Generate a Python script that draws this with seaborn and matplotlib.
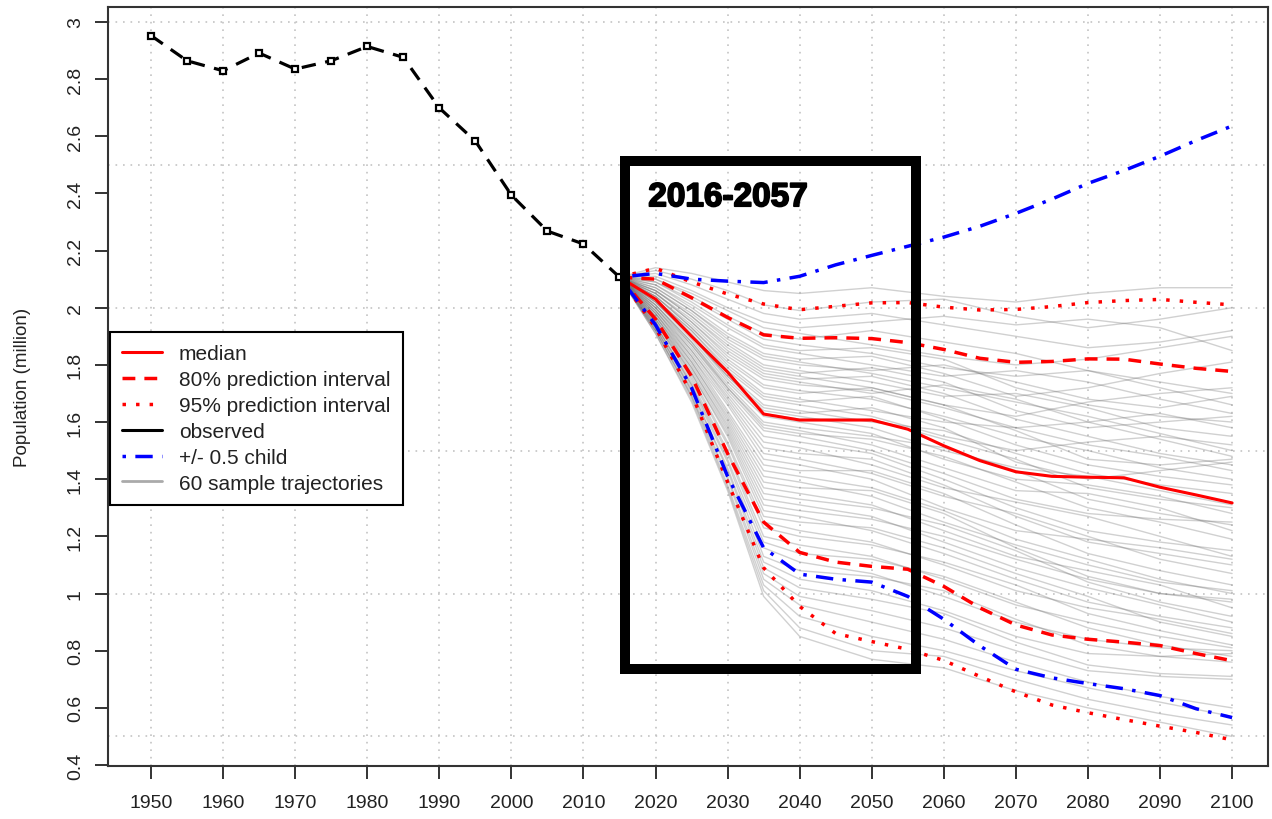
import matplotlib.pyplot as plt
import pandas as pd
import seaborn as sns
import numpy as np
from matplotlib.lines import Line2D
from matplotlib.patches import Rectangle
import matplotlib.patheffects as pe

# Observed population (million)
obs_years = [1950, 1955, 1960, 1965, 1970, 1975, 1980, 1985, 1990, 1995, 2000, 2005, 2010, 2015]
obs_pop = [2.952, 2.864, 2.829, 2.891, 2.835, 2.864, 2.914, 2.876, 2.699, 2.583, 2.394, 2.268, 2.223, 2.107]

# Projections
proj_years = [2015, 2020, 2025, 2030, 2035, 2040, 2045, 2050, 2055, 2060, 2065, 2070, 2075, 2080, 2085, 2090, 2095, 2100]
median = [2.107, 2.03, 1.90, 1.775, 1.628, 1.607, 1.607, 1.607, 1.575, 1.517, 1.465, 1.426, 1.41, 1.407, 1.405, 1.372, 1.345, 1.317]
pi80_up = [2.107, 2.10, 2.035, 1.966, 1.905, 1.893, 1.895, 1.892, 1.878, 1.854, 1.823, 1.809, 1.812, 1.821, 1.82, 1.803, 1.788, 1.777]
pi80_lo = [2.107, 1.96, 1.76, 1.49, 1.25, 1.144, 1.11, 1.095, 1.085, 1.025, 0.95, 0.89, 0.855, 0.84, 0.83, 0.818, 0.79, 0.765]
pi95_up = [2.107, 2.138, 2.09, 2.048, 2.013, 1.993, 2.005, 2.017, 2.018, 2.002, 1.992, 1.994, 2.004, 2.018, 2.025, 2.029, 2.019, 2.01]
pi95_lo = [2.107, 1.93, 1.70, 1.39, 1.09, 0.955, 0.86, 0.832, 0.805, 0.766, 0.71, 0.656, 0.61, 0.583, 0.559, 0.536, 0.514, 0.488]
child_up = [2.107, 2.12, 2.10, 2.093, 2.088, 2.11, 2.15, 2.183, 2.215, 2.247, 2.285, 2.33, 2.38, 2.435, 2.48, 2.53, 2.585, 2.636]
child_lo = [2.107, 1.94, 1.72, 1.41, 1.16, 1.068, 1.05, 1.04, 0.99, 0.91, 0.817, 0.735, 0.705, 0.685, 0.667, 0.643, 0.597, 0.566]

# 60 sample trajectories
traj_years = [2015, 2020, 2025, 2030, 2035, 2040, 2050, 2060, 2070, 2080, 2090, 2100]
traj_start = 2.107
traj = [
    [2.14, 2.12, 2.09, 2.06, 2.05, 2.07, 2.04, 2.02, 2.05, 2.07, 2.07],
    [2.13, 2.10, 2.06, 2.01, 1.99, 2.02, 2.03, 1.97, 1.93, 1.96, 2.00],
    [2.12, 2.08, 2.03, 1.98, 1.96, 1.98, 1.94, 1.90, 1.86, 1.88, 1.92],
    [2.11, 2.06, 2.00, 1.95, 1.93, 1.95, 1.97, 1.94, 1.96, 1.93, 1.85],
    [2.10, 2.05, 1.99, 1.93, 1.91, 1.87, 1.83, 1.80, 1.82, 1.86, 1.90],
    [2.10, 2.04, 1.97, 1.91, 1.89, 1.92, 1.88, 1.84, 1.78, 1.74, 1.70],
    [2.09, 2.03, 1.96, 1.89, 1.87, 1.84, 1.79, 1.76, 1.78, 1.72, 1.66],
    [2.09, 2.02, 1.94, 1.87, 1.85, 1.86, 1.82, 1.72, 1.66, 1.62, 1.60],
    [2.08, 2.01, 1.93, 1.86, 1.84, 1.80, 1.76, 1.78, 1.74, 1.68, 1.63],
    [2.08, 2.00, 1.91, 1.84, 1.82, 1.83, 1.77, 1.69, 1.72, 1.77, 1.81],
    [2.07, 1.99, 1.90, 1.83, 1.81, 1.77, 1.72, 1.67, 1.62, 1.56, 1.50],
    [2.07, 1.99, 1.89, 1.82, 1.80, 1.78, 1.80, 1.74, 1.68, 1.65, 1.69],
    [2.06, 1.98, 1.88, 1.80, 1.78, 1.74, 1.69, 1.70, 1.65, 1.58, 1.55],
    [2.06, 1.97, 1.87, 1.79, 1.77, 1.79, 1.74, 1.64, 1.58, 1.60, 1.62],
    [2.06, 1.97, 1.86, 1.78, 1.76, 1.72, 1.66, 1.62, 1.67, 1.70, 1.72],
    [2.05, 1.96, 1.85, 1.77, 1.75, 1.76, 1.70, 1.61, 1.55, 1.49, 1.45],
    [2.05, 1.95, 1.84, 1.76, 1.74, 1.70, 1.73, 1.68, 1.60, 1.54, 1.48],
    [2.05, 1.95, 1.83, 1.75, 1.73, 1.71, 1.65, 1.58, 1.60, 1.63, 1.58],
    [2.04, 1.94, 1.82, 1.73, 1.71, 1.68, 1.62, 1.55, 1.50, 1.44, 1.40],
    [2.04, 1.93, 1.81, 1.72, 1.70, 1.72, 1.66, 1.57, 1.47, 1.45, 1.47],
    [2.04, 1.93, 1.80, 1.70, 1.68, 1.64, 1.60, 1.58, 1.52, 1.48, 1.43],
    [2.03, 1.92, 1.79, 1.69, 1.67, 1.69, 1.61, 1.52, 1.45, 1.41, 1.38],
    [2.03, 1.92, 1.78, 1.68, 1.66, 1.62, 1.55, 1.50, 1.53, 1.55, 1.52],
    [2.03, 1.91, 1.77, 1.66, 1.64, 1.60, 1.57, 1.49, 1.42, 1.38, 1.35],
    [2.03, 1.90, 1.76, 1.65, 1.63, 1.65, 1.58, 1.46, 1.40, 1.43, 1.46],
    [2.02, 1.90, 1.76, 1.64, 1.62, 1.58, 1.50, 1.44, 1.41, 1.36, 1.31],
    [2.02, 1.90, 1.75, 1.63, 1.61, 1.61, 1.54, 1.47, 1.37, 1.33, 1.30],
    [2.02, 1.89, 1.74, 1.62, 1.60, 1.56, 1.47, 1.40, 1.38, 1.34, 1.28],
    [2.01, 1.88, 1.73, 1.60, 1.58, 1.55, 1.51, 1.43, 1.33, 1.28, 1.24],
    [2.01, 1.88, 1.72, 1.59, 1.57, 1.52, 1.44, 1.36, 1.35, 1.30, 1.22],
    [2.01, 1.87, 1.72, 1.58, 1.56, 1.54, 1.48, 1.39, 1.30, 1.25, 1.19],
    [2.00, 1.87, 1.71, 1.57, 1.55, 1.50, 1.42, 1.33, 1.28, 1.26, 1.25],
    [2.00, 1.86, 1.70, 1.55, 1.53, 1.49, 1.40, 1.30, 1.22, 1.18, 1.15],
    [2.00, 1.85, 1.69, 1.53, 1.51, 1.45, 1.37, 1.32, 1.27, 1.20, 1.13],
    [1.99, 1.85, 1.68, 1.51, 1.49, 1.47, 1.38, 1.27, 1.18, 1.14, 1.10],
    [1.99, 1.84, 1.67, 1.49, 1.47, 1.42, 1.34, 1.28, 1.20, 1.12, 1.07],
    [1.99, 1.83, 1.66, 1.47, 1.45, 1.40, 1.30, 1.22, 1.19, 1.16, 1.12],
    [1.98, 1.83, 1.64, 1.45, 1.43, 1.43, 1.35, 1.24, 1.14, 1.08, 1.03],
    [1.98, 1.82, 1.63, 1.43, 1.41, 1.37, 1.29, 1.19, 1.12, 1.05, 1.00],
    [1.98, 1.81, 1.62, 1.41, 1.39, 1.34, 1.25, 1.17, 1.10, 1.04, 1.01],
    [1.97, 1.81, 1.61, 1.39, 1.37, 1.36, 1.28, 1.16, 1.06, 1.00, 0.97],
    [1.97, 1.80, 1.60, 1.37, 1.35, 1.31, 1.22, 1.13, 1.08, 1.03, 0.95],
    [1.97, 1.79, 1.59, 1.35, 1.33, 1.30, 1.24, 1.15, 1.04, 0.97, 0.92],
    [1.96, 1.79, 1.58, 1.33, 1.31, 1.27, 1.18, 1.09, 1.02, 0.96, 0.90],
    [1.96, 1.78, 1.57, 1.31, 1.29, 1.26, 1.20, 1.12, 1.05, 1.00, 0.98],
    [1.96, 1.77, 1.56, 1.29, 1.27, 1.22, 1.14, 1.05, 0.97, 0.92, 0.88],
    [1.95, 1.77, 1.55, 1.27, 1.25, 1.23, 1.16, 1.07, 0.99, 0.90, 0.85],
    [1.95, 1.76, 1.53, 1.25, 1.22, 1.18, 1.10, 1.01, 0.95, 0.91, 0.86],
    [1.95, 1.75, 1.52, 1.23, 1.20, 1.17, 1.11, 1.03, 0.93, 0.87, 0.82],
    [1.94, 1.74, 1.50, 1.20, 1.17, 1.13, 1.05, 0.96, 0.90, 0.85, 0.81],
    [1.94, 1.73, 1.49, 1.18, 1.14, 1.12, 1.06, 0.97, 0.88, 0.82, 0.78],
    [1.94, 1.73, 1.47, 1.16, 1.11, 1.07, 0.99, 0.90, 0.84, 0.81, 0.80],
    [1.93, 1.72, 1.46, 1.13, 1.08, 1.06, 1.01, 0.91, 0.82, 0.78, 0.76],
    [1.93, 1.71, 1.44, 1.11, 1.05, 1.01, 0.94, 0.85, 0.79, 0.78, 0.79],
    [1.93, 1.71, 1.43, 1.09, 1.02, 0.98, 0.93, 0.83, 0.75, 0.72, 0.71],
    [1.92, 1.70, 1.41, 1.07, 0.99, 0.94, 0.88, 0.80, 0.73, 0.71, 0.70],
    [1.92, 1.69, 1.40, 1.05, 0.96, 0.90, 0.84, 0.76, 0.69, 0.64, 0.60],
    [1.92, 1.69, 1.38, 1.03, 0.92, 0.85, 0.80, 0.73, 0.67, 0.62, 0.57],
    [1.91, 1.68, 1.37, 1.01, 0.88, 0.80, 0.78, 0.70, 0.63, 0.58, 0.54],
    [1.91, 1.67, 1.36, 0.99, 0.85, 0.77, 0.74, 0.66, 0.60, 0.55, 0.50],
]

xticks = list(range(1950, 2101, 10))
yticks = [0.4, 0.6, 0.8, 1.0, 1.2, 1.4, 1.6, 1.8, 2.0, 2.2, 2.4, 2.6, 2.8, 3.0]
ytick_labels = ['0.4', '0.6', '0.8', '1', '1.2', '1.4', '1.6', '1.8', '2', '2.2', '2.4', '2.6', '2.8', '3']
grid_y = [0.5, 1.0, 1.5, 2.0, 2.5, 3.0]

legend_labels = ['median', '80% prediction interval', '95% prediction interval',
                 'observed', '+/- 0.5 child', '60 sample trajectories']

# long table for the trajectories
rows = []
for i, vals in enumerate(traj):
    for yr, v in zip(traj_years, [traj_start] + vals):
        rows.append({'traj': i, 'year': yr, 'pop': v})
df_traj = pd.DataFrame(rows)

sns.set_style("ticks")
plt.rcParams['font.family'] = ['Liberation Sans', 'DejaVu Sans']
plt.rcParams['text.color'] = '#111111'

fig = plt.figure(figsize=(12.72, 8.2), dpi=100)
ax = fig.add_axes([0.0849, 0.0646, 0.912, 0.9256])

# dotted grid like R's grid()
for gx in xticks:
    ax.axvline(gx, color='#c4c4c4', lw=1.2, ls=(0, (1, 3.5)), zorder=0)
for gy in grid_y:
    ax.axhline(gy, color='#c4c4c4', lw=1.2, ls=(0, (1, 3.5)), zorder=0)

sns.lineplot(data=df_traj, x='year', y='pop', units='traj', estimator=None,
             color='#666666', alpha=0.3, lw=1, ax=ax, legend=False, zorder=1)

dash80 = (0, (3.7, 2.6))
dot95 = (0, (1.0, 2.9))
dashdot = (0, (1.0, 2.7, 5.0, 2.7))

sns.lineplot(x=proj_years, y=pi95_up, color='red', lw=2.5, linestyle=dot95, ax=ax, zorder=3)
sns.lineplot(x=proj_years, y=pi95_lo, color='red', lw=2.5, linestyle=dot95, ax=ax, zorder=3)
sns.lineplot(x=proj_years, y=pi80_up, color='red', lw=2.5, linestyle=dash80, ax=ax, zorder=3)
sns.lineplot(x=proj_years, y=pi80_lo, color='red', lw=2.5, linestyle=dash80, ax=ax, zorder=3)
sns.lineplot(x=proj_years, y=child_up, color='blue', lw=2.5, linestyle=dashdot, ax=ax, zorder=3)
sns.lineplot(x=proj_years, y=child_lo, color='blue', lw=2.5, linestyle=dashdot, ax=ax, zorder=3)
sns.lineplot(x=proj_years, y=median, color='red', lw=2.2, ax=ax, zorder=4)
sns.lineplot(x=obs_years, y=obs_pop, color='black', lw=2.3, linestyle=(0, (4.5, 3)),
             marker='s', markersize=4.5, markerfacecolor='white', markeredgecolor='black',
             markeredgewidth=1.6, ax=ax, zorder=4)

# highlight box
ax.add_patch(Rectangle((2015.7, 0.736), 40.45, 1.777, fill=False, lw=7.2,
                       ec='black', joinstyle='miter', zorder=6))
ax.text(2019, 2.385, '2016-2057', fontsize=24, fontweight='bold', color='black',
        ha='left', va='center', zorder=7,
        path_effects=[pe.withStroke(linewidth=1.3, foreground='black')])

ax.set_xlim(1944.03, 2104.99)
ax.set_ylim(0.3965, 3.052)
ax.set_xticks(xticks)
ax.set_xticklabels([str(x) for x in xticks])
ax.set_yticks(yticks)
ax.set_yticklabels(ytick_labels, rotation=90, va='center')
ax.tick_params(axis='both', direction='out', length=9.4, width=1.4, color='#333333',
               labelsize=14, labelcolor='#222222', left=True, bottom=True)
ax.tick_params(axis='x', pad=11)
ax.tick_params(axis='y', pad=8)
ax.set_xlabel('')
ax.set_ylabel('Population (million)', fontsize=13.5, labelpad=26, color='#222222')
for sp in ax.spines.values():
    sp.set_visible(True)
    sp.set_color('#333333')
    sp.set_linewidth(1.5)

handles = [
    Line2D([], [], color='red', lw=2.2),
    Line2D([], [], color='red', lw=2.5, ls=dash80),
    Line2D([], [], color='red', lw=2.5, ls=dot95),
    Line2D([], [], color='black', lw=2.2),
    Line2D([], [], color='blue', lw=2.5, ls=dashdot),
    Line2D([], [], color='#aaaaaa', lw=2),
]
leg = ax.legend(handles, legend_labels, loc='upper left', bbox_to_anchor=(0.0017, 0.572),
                borderaxespad=0, fontsize=15, frameon=True, fancybox=False, edgecolor='black',
                framealpha=1, handlelength=1.9, handletextpad=0.8, borderpad=0.6, labelspacing=0.33)
leg.get_frame().set_linewidth(1.5)
for t in leg.get_texts():
    t.set_color('#222222')
leg.set_zorder(8)

fig.savefig('out.png', dpi=100)
